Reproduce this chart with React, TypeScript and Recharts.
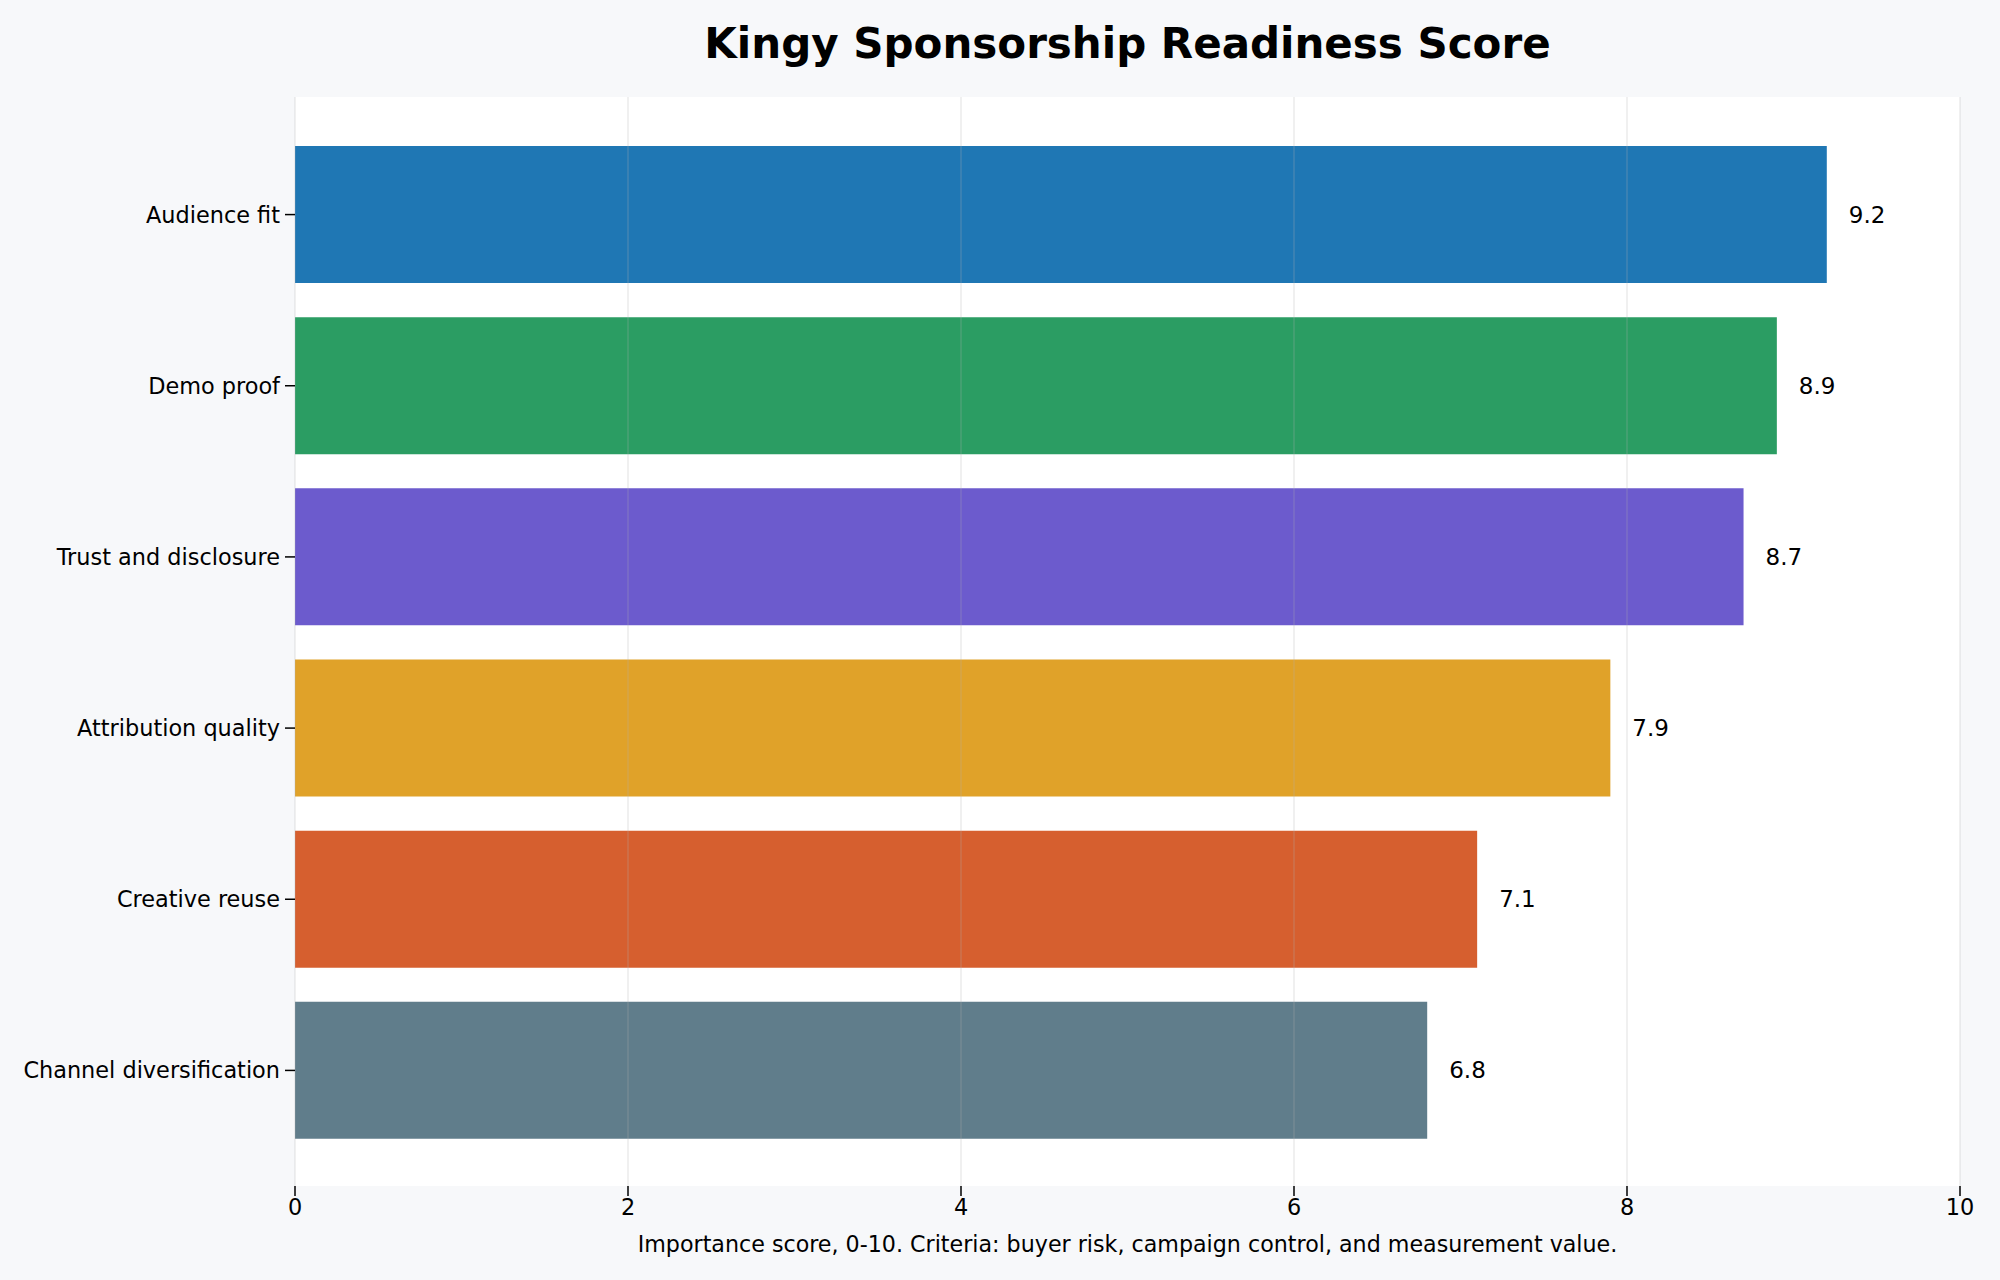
import { Bar, BarChart, CartesianGrid, Cell, LabelList, Label, ReferenceLine, XAxis, YAxis } from "recharts";

const criteria = [
  "Audience fit",
  "Demo proof",
  "Trust and disclosure",
  "Attribution quality",
  "Creative reuse",
  "Channel diversification",
];
const scores = [9.2, 8.9, 8.7, 7.9, 7.1, 6.8];
const xTicks = [0, 2, 4, 6, 8, 10];

const barColors = ["#1f77b4", "#2b9d63", "#6c5bcd", "#e0a229", "#d65f2f", "#607d8b"];
const FONT = "'DejaVu Sans', sans-serif";

const rows = criteria.map((criterion, i) => ({ criterion, score: scores[i] }));

export default function App() {
  return (
    <div
      style={{
        position: "absolute",
        left: 0,
        top: 0,
        width: 2000,
        height: 1280,
        background: "#f7f8fa",
        fontFamily: FONT,
      }}
    >
      <div
        style={{
          position: "absolute",
          left: 295,
          width: 1665,
          top: 17,
          textAlign: "center",
          fontSize: 42,
          fontWeight: "bold",
          color: "#000",
          lineHeight: "54px",
        }}
      >
        Kingy Sponsorship Readiness Score
      </div>
      <BarChart
        width={2000}
        height={1280}
        data={rows}
        layout="vertical"
        margin={{ top: 97, right: 40, bottom: 0, left: 10 }}
        style={{ position: "absolute", left: 0, top: 0 }}
      >
        <CartesianGrid fill="#ffffff" horizontal={false} vertical={false} />
        <XAxis
          type="number"
          domain={[0, 10]}
          ticks={xTicks}
          height={94}
          axisLine={false}
          tickSize={10}
          tickMargin={3}
          tickLine={{ stroke: "#000", strokeWidth: 1.5 }}
          tick={{ fontSize: 22.4, fill: "#000", fontFamily: FONT }}
        >
          <Label
            value="Importance score, 0-10. Criteria: buyer risk, campaign control, and measurement value."
            position="insideBottom"
            offset={28}
            style={{ fontSize: 22.2, fill: "#000", fontFamily: FONT }}
          />
        </XAxis>
        <YAxis
          type="category"
          dataKey="criterion"
          width={285}
          padding={{ top: 32, bottom: 30 }}
          axisLine={false}
          tickSize={10}
          tickMargin={5}
          tickLine={{ stroke: "#000", strokeWidth: 1.5 }}
          tick={{ fontSize: 22.4, fill: "#000", fontFamily: FONT }}
        />
        <Bar dataKey="score" barSize={137} isAnimationActive={false}>
          {rows.map((r, i) => (
            <Cell key={r.criterion} fill={barColors[i]} />
          ))}
          <LabelList
            dataKey="score"
            position="right"
            offset={22}
            formatter={(v: number) => v.toFixed(1)}
            style={{ fontSize: 23, fill: "#000", fontFamily: FONT }}
          />
        </Bar>
        {xTicks.map((t) => (
          <ReferenceLine key={t} x={t} stroke="#b0b0b0" strokeOpacity={0.25} strokeWidth={1.5} />
        ))}
      </BarChart>
    </div>
  );
}
